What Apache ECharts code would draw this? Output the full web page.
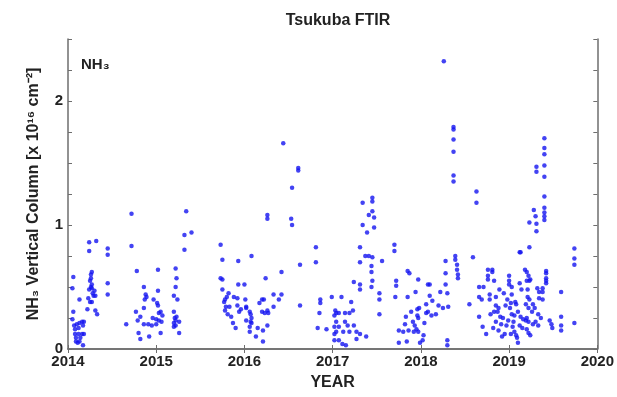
<!DOCTYPE html>
<html>
<head>
<meta charset="utf-8">
<script src="https://cdn.jsdelivr.net/npm/echarts@6/dist/echarts.min.js"></script>
<style>
  html, body { margin: 0; padding: 0; background: #fff; }
  #chart { width: 617px; height: 397px; }
</style>
</head>
<body>
<div id="chart"></div>
<script>
// [decimal year, NH3 column in 1e16 cm^-2]
const obs2014 = [
  [2014.06,0.58],[2014.05,0.49],[2014.13,0.40],[2014.06,0.30],[2014.05,0.24],[2014.07,0.19],
  [2014.10,0.20],[2014.13,0.21],[2014.16,0.22],[2014.18,0.22],[2014.08,0.16],[2014.12,0.17],
  [2014.17,0.19],[2014.08,0.12],[2014.12,0.12],[2014.16,0.12],[2014.18,0.12],[2014.09,0.06],
  [2014.11,0.05],[2014.13,0.06],[2014.17,0.03],[2014.09,0.09],[2014.14,0.09],
  [2014.24,0.86],[2014.32,0.87],[2014.24,0.79],[2014.27,0.62],[2014.26,0.60],[2014.26,0.57],
  [2014.25,0.55],[2014.27,0.52],[2014.26,0.50],[2014.27,0.49],[2014.24,0.48],[2014.29,0.43],
  [2014.31,0.43],[2014.23,0.41],[2014.27,0.38],[2014.25,0.38],[2014.22,0.32],[2014.31,0.31],
  [2014.33,0.28],[2014.28,0.45],[2014.30,0.47],
  [2014.45,0.81],[2014.45,0.76],[2014.45,0.53],[2014.45,0.44],
  [2014.66,0.20],[2014.72,1.09],[2014.72,0.83],[2014.78,0.63],[2014.86,0.50],[2014.88,0.44],
  [2014.89,0.42],[2014.87,0.40],[2014.97,0.40],[2014.77,0.30],[2014.79,0.23],[2014.82,0.26],
  [2014.80,0.13],[2014.82,0.08],[2014.92,0.10],[2014.86,0.33],[2014.96,0.25],[2014.95,0.19],
  [2014.86,0.20],[2014.91,0.20]
]
const obs2015 = [
  [2015.02,0.64],[2015.02,0.47],[2015.02,0.35],[2015.05,0.30],[2015.03,0.29],[2015.07,0.27],
  [2015.00,0.24],[2015.03,0.23],[2015.06,0.22],[2015.05,0.13],[2015.01,0.37],[2015.00,0.20],
  [2015.22,0.65],[2015.23,0.57],[2015.22,0.50],[2015.20,0.43],[2015.24,0.40],[2015.20,0.30],
  [2015.21,0.25],[2015.22,0.23],[2015.20,0.21],[2015.22,0.19],[2015.20,0.18],[2015.26,0.22],
  [2015.26,0.13],[2015.23,0.26],[2015.34,1.11],[2015.40,0.94],[2015.32,0.92],[2015.32,0.80],
  [2015.73,0.84],[2015.75,0.72],[2015.93,0.71],[2015.73,0.57],[2015.75,0.56],[2015.75,0.48],
  [2015.82,0.45],[2015.80,0.42],[2015.78,0.40],[2015.79,0.34],[2015.78,0.31],[2015.83,0.34],
  [2015.85,0.26],[2015.87,0.21],[2015.90,0.17],[2015.88,0.42],[2015.92,0.41],[2015.92,0.35],
  [2015.94,0.30],[2015.96,0.32],[2015.93,0.52],[2015.77,0.38],[2015.81,0.28]
]
const obs2016 = [
  [2016.02,0.34],[2016.08,0.75],[2016.00,0.52],[2016.01,0.40],[2016.02,0.33],[2016.06,0.30],
  [2016.07,0.28],[2016.08,0.25],[2016.07,0.22],[2016.08,0.21],[2016.06,0.18],[2016.06,0.14],
  [2016.15,0.17],[2016.21,0.15],[2016.13,0.10],[2016.21,0.06],[2016.20,0.40],[2016.22,0.40],
  [2016.17,0.37],[2016.20,0.30],[2016.23,0.29],[2016.26,0.31],[2016.27,0.29],[2016.26,0.19],
  [2016.33,0.44],[2016.39,0.40],[2016.42,0.44],[2016.33,0.34],[2016.02,0.23],
  [2016.24,0.57],[2016.42,0.62],[2016.26,1.08],[2016.26,1.05],[2016.44,1.66],[2016.61,1.46],
  [2016.61,1.44],[2016.54,1.30],[2016.53,1.05],[2016.54,1.00],[2016.63,0.68],[2016.63,0.35],
  [2016.81,0.82],[2016.81,0.70],[2016.86,0.40],[2016.86,0.37],[2016.85,0.29],[2016.83,0.17],
  [2016.93,0.16],[2016.99,0.42]
]
const obs2017 = [
  [2017.10,0.42],[2017.21,0.38],[2017.04,0.29],[2017.07,0.29],[2017.14,0.29],[2017.19,0.29],
  [2017.23,0.31],[2017.02,0.27],[2017.04,0.22],[2017.14,0.22],[2017.02,0.18],[2017.07,0.18],
  [2017.17,0.19],[2017.24,0.19],[2017.04,0.14],[2017.12,0.14],[2017.19,0.14],[2017.27,0.14],
  [2017.02,0.07],[2017.07,0.07],[2017.11,0.04],[2017.15,0.03],[2017.27,0.08],[2017.31,0.12],
  [2017.38,0.10],[2017.02,0.12],[2017.03,0.31],
  [2017.34,1.18],[2017.45,1.22],[2017.45,1.19],[2017.45,1.11],[2017.41,1.08],[2017.47,1.06],
  [2017.34,1.00],[2017.39,0.94],[2017.47,0.98],[2017.31,0.82],[2017.37,0.75],[2017.41,0.75],
  [2017.45,0.74],[2017.31,0.70],[2017.44,0.67],[2017.44,0.62],[2017.45,0.55],[2017.44,0.50],
  [2017.31,0.52],[2017.31,0.48],[2017.24,0.54],[2017.56,0.71],[2017.53,0.45],[2017.53,0.40],
  [2017.53,0.28],
  [2017.70,0.84],[2017.70,0.79],[2017.72,0.55],[2017.72,0.51],[2017.71,0.42],[2017.85,0.63],
  [2017.87,0.61],[2017.97,0.56],[2017.85,0.42],[2017.94,0.46],[2017.75,0.15],[2017.80,0.14],
  [2017.86,0.15],[2017.75,0.05],[2017.84,0.06],[2017.83,0.26],[2017.96,0.27],[2017.96,0.32],
  [2017.98,0.33],[2017.91,0.22],[2017.93,0.19],[2017.95,0.16],[2017.97,0.14],[2017.92,0.14],
  [2017.99,0.05],[2017.97,0.25],[2017.89,0.30],[2017.82,0.20]
]
const obs2018 = [
  [2018.03,0.11],[2018.08,0.52],[2018.10,0.52],[2018.10,0.43],[2018.06,0.36],[2018.08,0.30],
  [2018.12,0.27],[2018.17,0.28],[2018.06,0.29],[2018.13,0.39],[2018.04,0.21],[2018.02,0.07],
  [2018.26,2.32],[2018.28,0.71],[2018.28,0.61],[2018.28,0.52],[2018.30,0.45],[2018.31,0.34],
  [2018.25,0.33],[2018.22,0.46],[2018.20,0.35],[2018.30,0.07],[2018.30,0.03],
  [2018.37,1.79],[2018.37,1.77],[2018.37,1.69],[2018.37,1.59],[2018.37,1.40],[2018.37,1.35],
  [2018.39,0.75],[2018.39,0.72],[2018.41,0.68],[2018.41,0.64],[2018.42,0.60],[2018.42,0.57],
  [2018.55,0.36],[2018.59,0.74],[2018.63,1.27],[2018.63,1.18],
  [2018.66,0.50],[2018.66,0.42],[2018.69,0.40],[2018.71,0.50],[2018.76,0.64],[2018.76,0.59],
  [2018.76,0.56],[2018.78,0.44],[2018.78,0.40],[2018.81,0.64],[2018.81,0.62],[2018.83,0.55],
  [2018.85,0.42],[2018.85,0.35],[2018.83,0.30],[2018.87,0.30],[2018.88,0.33],[2018.90,0.26],
  [2018.85,0.22],[2018.91,0.20],[2018.93,0.25],[2018.82,0.17],[2018.88,0.15],[2018.95,0.12],
  [2018.97,0.19],[2018.99,0.23],[2018.92,0.10],[2018.74,0.12],[2018.70,0.18],[2018.66,0.26],
  [2018.79,0.28],[2018.96,0.35],[2018.98,0.40],[2018.94,0.45],[2018.89,0.48]
]
const obs2019 = [
  [2019.00,0.59],[2019.00,0.55],[2019.00,0.52],[2019.03,0.50],[2019.03,0.44],[2019.02,0.37],
  [2019.01,0.33],[2019.03,0.28],[2019.05,0.22],[2019.04,0.18],[2019.06,0.14],[2019.08,0.11],
  [2019.09,0.09],[2019.02,0.12],[2019.07,0.38],[2019.08,0.36],[2019.12,0.78],[2019.12,0.53],
  [2019.14,0.48],[2019.21,0.48],[2019.13,0.26],[2019.16,0.24],[2019.19,0.23],[2019.22,0.22],
  [2019.20,0.25],[2019.12,0.19],[2019.15,0.17],[2019.20,0.16],[2019.22,0.13],[2019.24,0.11],
  [2019.18,0.64],[2019.20,0.62],[2019.22,0.59],[2019.24,0.56],[2019.20,0.55],[2019.23,0.55],
  [2019.21,0.42],[2019.23,0.40],[2019.19,0.36],[2019.22,0.33],[2019.26,0.30],[2019.23,0.82],
  [2019.13,0.78],[2019.23,1.02],[2019.28,1.12],[2019.30,1.07],[2019.31,1.01],[2019.31,0.95],
  [2019.31,1.47],[2019.31,1.43],[2019.40,1.70],[2019.40,1.62],[2019.40,1.57],[2019.40,1.48],
  [2019.40,1.39],[2019.40,1.23],[2019.40,1.14],[2019.40,1.10],[2019.40,1.07],[2019.40,1.04],
  [2019.32,0.49],[2019.34,0.46],[2019.34,0.41],[2019.38,0.49],[2019.38,0.46],[2019.38,0.40],
  [2019.42,0.61],[2019.42,0.57],[2019.42,0.55],[2019.42,0.53],[2019.42,0.63],[2019.33,0.28],
  [2019.36,0.25],[2019.30,0.22],[2019.33,0.19],[2019.46,0.23],[2019.48,0.20],[2019.49,0.17],
  [2019.59,0.46],[2019.59,0.26],[2019.59,0.19],[2019.59,0.15],[2019.74,0.81],[2019.74,0.73],
  [2019.74,0.68],[2019.74,0.21],[2019.27,0.36],[2019.29,0.33],[2019.10,0.30],[2019.06,0.27],
  [2019.27,0.20],[2019.10,0.05]
]

const points = [].concat(obs2014, obs2015, obs2016, obs2017, obs2018, obs2019)

const font = 'Liberation Sans, Arial, sans-serif'
const axisColor = '#6e6e6e'

const chart = echarts.init(document.getElementById('chart'))

chart.setOption({
  animation: false,
  textStyle: { fontFamily: font },
  title: [
    {
      text: 'Tsukuba FTIR',
      left: 333,
      top: 8,
      textAlign: 'center',
      textStyle: { fontSize: 16, fontWeight: 'bold', color: '#222' },
    },
    {
      text: 'NH₃',
      left: 76,
      top: 52,
      textStyle: { fontSize: 15, fontWeight: 'bold', color: '#222' },
    },
  ],
  grid: { left: 68, right: 19, top: 39, bottom: 48 },
  xAxis: [
    {
      type: 'value',
      min: 2014,
      max: 2020,
      interval: 1,
      name: 'YEAR',
      nameLocation: 'middle',
      nameGap: 26,
      nameTextStyle: { fontSize: 16, fontWeight: 'bold', color: '#222' },
      axisLine: { lineStyle: { color: axisColor, width: 1.5 } },
      axisTick: { inside: true, length: 4, lineStyle: { color: axisColor } },
      axisLabel: {
        fontSize: 15,
        fontWeight: 'bold',
        color: '#222',
        margin: 5,
        formatter: v => String(v),
      },
      splitLine: { show: false },
    },
    {
      type: 'value',
      position: 'top',
      min: 2014,
      max: 2020,
      interval: 1,
      axisLine: { lineStyle: { color: axisColor, width: 1.5 } },
      axisTick: { inside: true, length: 4, lineStyle: { color: axisColor } },
      axisLabel: { show: false },
      splitLine: { show: false },
    },
  ],
  yAxis: [
    {
      type: 'value',
      min: 0,
      max: 2.5,
      interval: 0.25,
      name: 'NH₃ Vertical Column [x 10¹⁶ cm⁻²]',
      nameLocation: 'middle',
      nameGap: 26,
      nameTextStyle: { fontSize: 16, fontWeight: 'bold', color: '#222' },
      axisLine: { show: true, lineStyle: { color: axisColor, width: 1.5 } },
      axisTick: { show: true, inside: true, length: 4, lineStyle: { color: axisColor } },
      axisLabel: {
        fontSize: 15,
        fontWeight: 'bold',
        color: '#222',
        margin: 5,
        formatter: v => (Number.isInteger(v) ? String(v) : ''),
      },
      splitLine: { show: false },
    },
    {
      type: 'value',
      position: 'right',
      min: 0,
      max: 2.5,
      interval: 0.25,
      axisLine: { show: true, lineStyle: { color: axisColor, width: 1.5 } },
      axisTick: { show: true, inside: true, length: 4, lineStyle: { color: axisColor } },
      axisLabel: { show: false },
      splitLine: { show: false },
    },
  ],
  series: [
    {
      type: 'scatter',
      xAxisIndex: 0,
      yAxisIndex: 0,
      data: points,
      symbol: 'circle',
      symbolSize: 4.5,
      itemStyle: { color: '#1414f0' },
    },
  ],
})
</script>
</body>
</html>
